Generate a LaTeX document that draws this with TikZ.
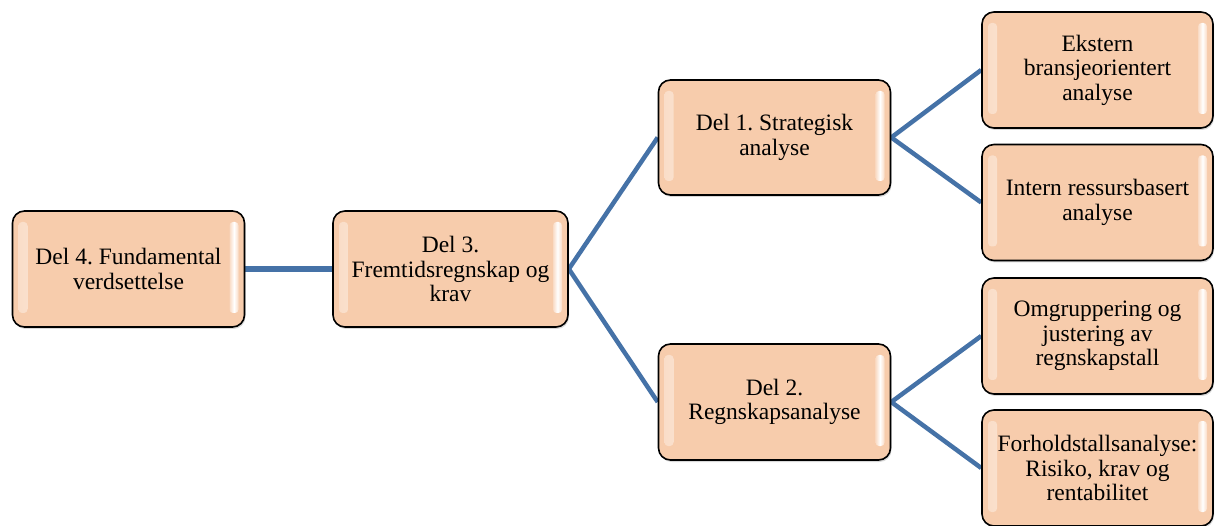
\documentclass[tikz,border=0pt]{standalone}
\usepackage{fontspec}
\setmainfont{Liberation Serif}
\frenchspacing
\usetikzlibrary{shadows,backgrounds,calc}
\definecolor{peach}{RGB}{247,204,172}
\definecolor{linkblue}{RGB}{69,114,167}
\begin{document}
\begin{tikzpicture}[x=1pt,y=1pt,
  gloss/.style={left color=peach!70!white,right color=peach!70!white,middle color=white,rounded corners=3.5pt},
  stagebox/.style={draw=black,line width=1.6pt,fill=peach,rounded corners=12pt,
    minimum width=232pt,minimum height=116pt,align=center,inner sep=0pt,
    font=\fontsize{23.5}{24.5}\selectfont,
    drop shadow={shadow xshift=1pt,shadow yshift=-2pt,opacity=0.3},
    path picture={
      \shade[gloss] ($(path picture bounding box.north west)+(6,-11)$)
        rectangle ($(path picture bounding box.south west)+(15,14)$);
      \shade[gloss] ($(path picture bounding box.north east)+(-15,-11)$)
        rectangle ($(path picture bounding box.south east)+(-6,14)$);
    }},
  link/.style={draw=linkblue,line width=4.5pt}]
\useasboundingbox (0,0) rectangle (1215,525);

% stages of the analysis
\node[stagebox] (d4) at (128.5,256) {Del 4. Fundamental\\verdsettelse};
\node[stagebox,minimum width=235pt] (d3) at (450.5,256) {Del 3.\\Fremtidsregnskap og\\krav};
\node[stagebox,minimum height=115pt] (d1) at (774.5,387.5) {Del 1. Strategisk\\analyse};
\node[stagebox] (d2) at (774.5,123) {Del 2.\\Regnskapsanalyse};

% sub-analyses
\node[stagebox,minimum width=231pt] (e1) at (1097.5,455) {Ekstern\\bransjeorientert\\analyse};
\node[stagebox,minimum width=231pt] (e2) at (1097.5,322.5) {Intern ressursbasert\\analyse};
\node[stagebox,minimum width=231pt] (e3) at (1097.5,189) {Omgruppering og\\justering av\\regnskapstall};
\node[stagebox,minimum width=231pt] (e4) at (1097.5,57) {Forholdstallsanalyse:\\Risiko, krav og\\rentabilitet};

% connectors
\begin{scope}[on background layer]
  \draw[link,line width=6pt] (d4.east) -- (d3.west);
  \draw[link] (d3.east) -- (d1.west);
  \draw[link] (d3.east) -- (d2.west);
  \draw[link] (d1.east) -- (e1.west);
  \draw[link] (d1.east) -- (e2.west);
  \draw[link] (d2.east) -- (e3.west);
  \draw[link] (d2.east) -- (e4.west);
\end{scope}
\end{tikzpicture}
\end{document}
